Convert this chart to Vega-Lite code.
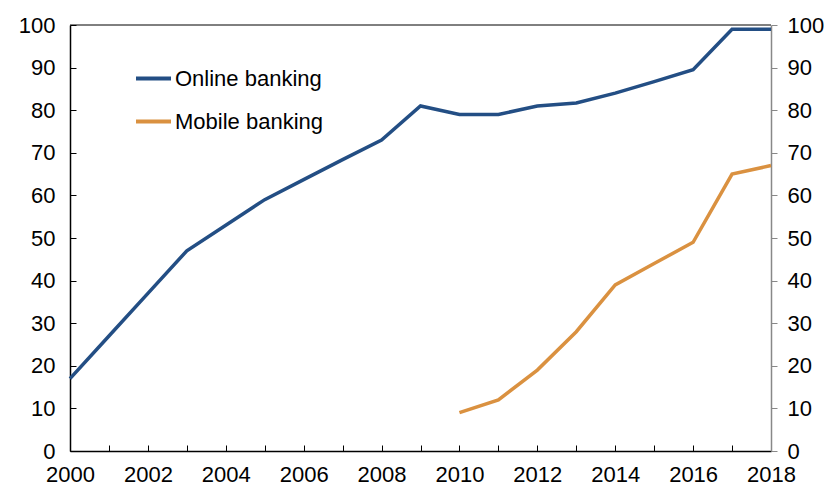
{
  "$schema": "https://vega.github.io/schema/vega-lite/v6.json",
  "width": 701,
  "height": 426,
  "autosize": {"type": "none"},
  "padding": {"left": 70, "top": 25, "right": 61, "bottom": 38},
  "background": "white",
  "config": {
    "view": {"stroke": null},
    "font": "Liberation Sans",
    "axis": {"grid": false, "labelFont": "Liberation Sans", "labelFontSize": 22, "labelColor": "black"}
  },
  "datasets": {
    "series": [
      {"year": 2000, "series": "Online banking", "value": 17},
      {"year": 2001, "series": "Online banking", "value": 27},
      {"year": 2002, "series": "Online banking", "value": 37},
      {"year": 2003, "series": "Online banking", "value": 47},
      {"year": 2004, "series": "Online banking", "value": 53},
      {"year": 2005, "series": "Online banking", "value": 59},
      {"year": 2006, "series": "Online banking", "value": 63.7},
      {"year": 2007, "series": "Online banking", "value": 68.4},
      {"year": 2008, "series": "Online banking", "value": 73},
      {"year": 2009, "series": "Online banking", "value": 81},
      {"year": 2010, "series": "Online banking", "value": 79},
      {"year": 2011, "series": "Online banking", "value": 79},
      {"year": 2012, "series": "Online banking", "value": 81},
      {"year": 2013, "series": "Online banking", "value": 81.7},
      {"year": 2014, "series": "Online banking", "value": 84},
      {"year": 2015, "series": "Online banking", "value": 86.7},
      {"year": 2016, "series": "Online banking", "value": 89.5},
      {"year": 2017, "series": "Online banking", "value": 99},
      {"year": 2018, "series": "Online banking", "value": 99},
      {"year": 2010, "series": "Mobile banking", "value": 9},
      {"year": 2011, "series": "Mobile banking", "value": 12},
      {"year": 2012, "series": "Mobile banking", "value": 19},
      {"year": 2013, "series": "Mobile banking", "value": 28},
      {"year": 2014, "series": "Mobile banking", "value": 39},
      {"year": 2015, "series": "Mobile banking", "value": 44},
      {"year": 2016, "series": "Mobile banking", "value": 49},
      {"year": 2017, "series": "Mobile banking", "value": 65},
      {"year": 2018, "series": "Mobile banking", "value": 67}
    ],
    "top": [{"y": 100}]
  },
  "layer": [
    {
      "data": {"name": "top"},
      "mark": {"type": "rule", "color": "black", "strokeWidth": 1},
      "encoding": {
        "y": {"field": "y", "type": "quantitative", "scale": {"domain": [0, 100]}, "axis": null}
      }
    },
    {
      "data": {"name": "series"},
      "mark": {"type": "line", "strokeWidth": 3.5},
      "encoding": {
        "x": {
          "field": "year", "type": "quantitative",
          "scale": {"domain": [2000, 2018], "nice": false, "zero": false},
          "axis": {
            "title": null,
            "values": [2000,2001,2002,2003,2004,2005,2006,2007,2008,2009,2010,2011,2012,2013,2014,2015,2016,2017,2018],
            "labelExpr": "datum.value % 2 == 0 ? datum.value : ''",
            "format": "d",
            "domainColor": "black",
            "domainWidth": 1.5,
            "tickColor": "black",
            "tickSize": -6,
            "labelPadding": 19,
            "labelFlush": false,
            "labelOverlap": false
          }
        },
        "y": {
          "field": "value", "type": "quantitative",
          "scale": {"domain": [0, 100], "nice": false},
          "axis": {
            "title": null,
            "values": [0,10,20,30,40,50,60,70,80,90,100],
            "orient": "left",
            "domainColor": "black",
            "domainWidth": 1.5,
            "tickColor": "black",
            "tickSize": -6,
            "labelPadding": 21,
            "labelFlush": false
          }
        },
        "color": {
          "field": "series", "type": "nominal",
          "scale": {"domain": ["Online banking", "Mobile banking"], "range": ["#234E84", "#DA9140"]},
          "legend": {
            "title": null,
            "orient": "none",
            "legendX": 64,
            "legendY": 34,
            "symbolType": "stroke",
            "symbolSize": 1225,
            "symbolStrokeWidth": 4,
            "labelFontSize": 22,
            "labelFont": "Liberation Sans",
            "labelColor": "black",
            "labelOffset": 2,
            "rowPadding": 12
          }
        }
      }
    },
    {
      "data": {"name": "top"},
      "mark": {"type": "rule", "opacity": 0},
      "encoding": {
        "y": {
          "field": "y", "type": "quantitative",
          "scale": {"domain": [0, 100], "nice": false},
          "axis": {
            "title": null,
            "orient": "right",
            "values": [0,10,20,30,40,50,60,70,80,90,100],
            "domainColor": "#888888",
            "domainWidth": 1.5,
            "tickColor": "#888888",
            "tickSize": 6,
            "labelPadding": 10,
            "labelFlush": false
          }
        }
      }
    }
  ],
  "resolve": {"scale": {"y": "independent"}, "axis": {"y": "independent"}}
}
